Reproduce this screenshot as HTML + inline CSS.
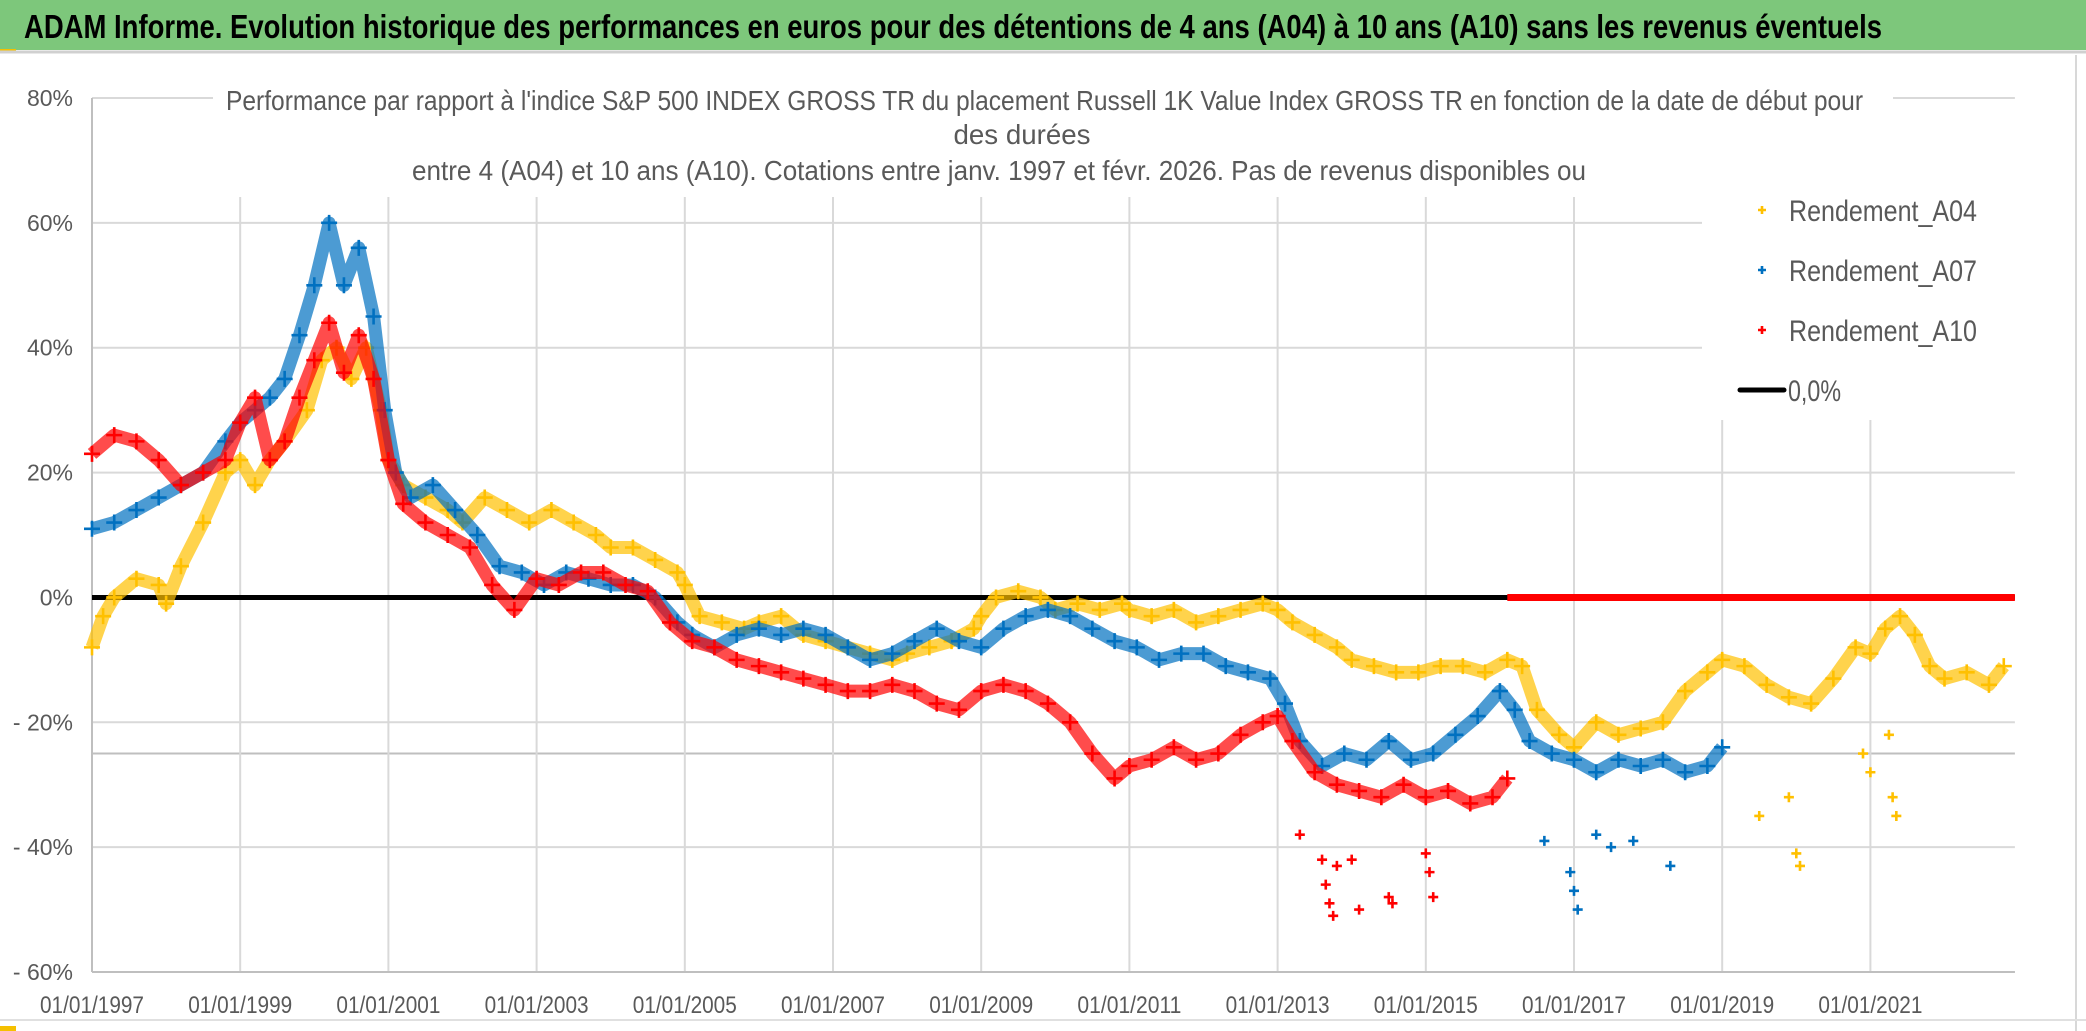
<!DOCTYPE html>
<html><head><meta charset="utf-8"><style>
html,body{margin:0;padding:0;background:#fff;}
svg{display:block;font-family:"Liberation Sans",sans-serif;}
</style></head><body>
<svg id="chart" width="2086" height="1031" viewBox="0 0 2086 1031" xmlns="http://www.w3.org/2000/svg">
<rect x="0" y="0" width="2086" height="1031" fill="#fff"/>
<rect x="0" y="0" width="2086" height="50" fill="#7dc77b"/>
<rect x="0" y="49" width="16" height="4" fill="#f5c000"/>
<line x1="0" y1="52" x2="2086" y2="52" stroke="#d0d0d0" stroke-width="3"/>
<text x="24" y="38" font-size="33" font-weight="bold" fill="#000" textLength="1858" lengthAdjust="spacingAndGlyphs">ADAM Informe. Evolution historique des performances en euros pour des détentions de 4 ans (A04) à 10 ans (A10) sans les revenus éventuels</text>
<line x1="2076" y1="55" x2="2076" y2="1031" stroke="#d8d8d8" stroke-width="2"/>
<line x1="0" y1="1020" x2="2086" y2="1020" stroke="#e0e0e0" stroke-width="2"/>
<rect x="0" y="1026" width="16" height="5" fill="#f5c000"/>
<g id="grid"></g>
<g id="series"></g>
<rect x="213" y="80" width="1680" height="117" fill="#fff"/>
<text x="226" y="110" font-size="28" fill="#595959" textLength="1637" lengthAdjust="spacingAndGlyphs">Performance par rapport à l'indice S&amp;P 500 INDEX GROSS TR  du placement Russell 1K Value Index GROSS TR en fonction de la date de début pour</text>
<text x="1022" y="144" font-size="28" fill="#595959" text-anchor="middle" textLength="137" lengthAdjust="spacingAndGlyphs">des durées</text>
<text x="412" y="180" font-size="28" fill="#595959" textLength="1174" lengthAdjust="spacingAndGlyphs">entre 4 (A04) et 10 ans (A10). Cotations entre janv. 1997 et févr. 2026. Pas de revenus disponibles ou</text>
<g id="legend">
<rect x="1702" y="182" width="313" height="238" fill="#fff"/>
</g>
<g id="axes"></g>
</svg>
<script>
// ---- data ----
const xTickYears = [1997,1999,2001,2003,2005,2007,2009,2011,2013,2015,2017,2019,2021];
const xTickLabels = ["01/01/1997","01/01/1999","01/01/2001","01/01/2003","01/01/2005","01/01/2007","01/01/2009","01/01/2011","01/01/2013","01/01/2015","01/01/2017","01/01/2019","01/01/2021"];
const yTickValues = [80,60,40,20,0,-20,-40,-60];
const yTickLabels = ["80%","60%","40%","20%","0%","- 20%","- 40%","- 60%"];
const a04Dates = [1997.0,1997.15,1997.3,1997.6,1997.9,1998.0,1998.2,1998.5,1998.8,1999.0,1999.2,1999.4,1999.6,1999.9,2000.1,2000.3,2000.5,2000.7,2000.9,2001.0,2001.2,2001.5,2001.8,2002.0,2002.3,2002.6,2002.9,2003.2,2003.5,2003.8,2004.0,2004.3,2004.6,2004.9,2005.0,2005.2,2005.5,2005.8,2006.0,2006.3,2006.6,2006.9,2007.2,2007.5,2007.8,2008.0,2008.3,2008.6,2008.9,2009.0,2009.2,2009.5,2009.8,2010.0,2010.3,2010.6,2010.9,2011.0,2011.3,2011.6,2011.9,2012.2,2012.5,2012.8,2013.0,2013.2,2013.5,2013.8,2014.0,2014.3,2014.6,2014.9,2015.2,2015.5,2015.8,2016.1,2016.3,2016.5,2016.8,2017.0,2017.3,2017.6,2017.9,2018.2,2018.5,2018.8,2019.0,2019.3,2019.6,2019.9,2020.2,2020.5,2020.8,2021.0,2021.2,2021.4,2021.6,2021.8,2022.0,2022.3,2022.6,2022.8];
const a04Values = [-8,-3,0,3,2,-1,5,12,20,22,18,22,25,30,38,40,35,40,30,22,18,16,14,12,16,14,12,14,12,10,8,8,6,4,2,-3,-4,-5,-4,-3,-6,-7,-8,-9,-10,-9,-8,-7,-5,-3,0,1,0,-2,-1,-2,-1,-2,-3,-2,-4,-3,-2,-1,-2,-4,-6,-8,-10,-11,-12,-12,-11,-11,-12,-10,-11,-18,-22,-24,-20,-22,-21,-20,-15,-12,-10,-11,-14,-16,-17,-13,-8,-9,-5,-3,-6,-11,-13,-12,-14,-11];
const a04OutDates = [2019.5,2019.9,2020.0,2020.05,2020.9,2021.0,2021.25,2021.3,2021.35];
const a04OutValues = [-35,-32,-41,-43,-25,-28,-22,-32,-35];
const a07Dates = [1997.0,1997.3,1997.6,1997.9,1998.2,1998.5,1998.8,1999.0,1999.2,1999.4,1999.6,1999.8,2000.0,2000.2,2000.4,2000.6,2000.8,2000.95,2001.1,2001.3,2001.6,2001.9,2002.2,2002.5,2002.8,2003.1,2003.4,2003.7,2004.0,2004.3,2004.6,2004.9,2005.1,2005.4,2005.7,2006.0,2006.3,2006.6,2006.9,2007.2,2007.5,2007.8,2008.1,2008.4,2008.7,2009.0,2009.3,2009.6,2009.9,2010.2,2010.5,2010.8,2011.1,2011.4,2011.7,2012.0,2012.3,2012.6,2012.9,2013.1,2013.3,2013.6,2013.9,2014.2,2014.5,2014.8,2015.1,2015.4,2015.7,2016.0,2016.2,2016.4,2016.7,2017.0,2017.3,2017.6,2017.9,2018.2,2018.5,2018.8,2019.0];
const a07Values = [11,12,14,16,18,20,25,28,30,32,35,42,50,60,50,56,45,30,20,16,18,14,10,5,4,2,4,3,2,2,0,-4,-6,-8,-6,-5,-6,-5,-6,-8,-10,-9,-7,-5,-7,-8,-5,-3,-2,-3,-5,-7,-8,-10,-9,-9,-11,-12,-13,-17,-23,-27,-25,-26,-23,-26,-25,-22,-19,-15,-18,-23,-25,-26,-28,-26,-27,-26,-28,-27,-24];
const a07OutDates = [2016.6,2016.95,2017.0,2017.05,2017.3,2017.5,2017.8,2018.3];
const a07OutValues = [-39,-44,-47,-50,-38,-40,-39,-43];
const a10Dates = [1997.0,1997.3,1997.6,1997.9,1998.2,1998.5,1998.8,1999.0,1999.2,1999.4,1999.6,1999.8,2000.0,2000.2,2000.4,2000.6,2000.8,2001.0,2001.2,2001.5,2001.8,2002.1,2002.4,2002.7,2003.0,2003.3,2003.6,2003.9,2004.2,2004.5,2004.8,2005.1,2005.4,2005.7,2006.0,2006.3,2006.6,2006.9,2007.2,2007.5,2007.8,2008.1,2008.4,2008.7,2009.0,2009.3,2009.6,2009.9,2010.2,2010.5,2010.8,2011.0,2011.3,2011.6,2011.9,2012.2,2012.5,2012.8,2013.0,2013.2,2013.5,2013.8,2014.1,2014.4,2014.7,2015.0,2015.3,2015.6,2015.9,2016.1];
const a10Values = [23,26,25,22,18,20,22,28,32,22,25,32,38,44,36,42,35,22,15,12,10,8,2,-2,3,2,4,4,2,1,-4,-7,-8,-10,-11,-12,-13,-14,-15,-15,-14,-15,-17,-18,-15,-14,-15,-17,-20,-25,-29,-27,-26,-24,-26,-25,-22,-20,-19,-23,-28,-30,-31,-32,-30,-32,-31,-33,-32,-29];
const a10OutDates = [2013.3,2013.6,2013.65,2013.7,2013.75,2013.8,2014.0,2014.1,2014.5,2014.55,2015.0,2015.05,2015.1];
const a10OutValues = [-38,-42,-46,-49,-51,-43,-42,-50,-48,-49,-41,-44,-48];
const zeroStart = 1997.0, zeroEnd = 2022.95, a10ZeroStart = 2016.1;

// ---- axes ----
const X0 = 92, PX_PER_YEAR = 74.1, YTOP = 98, PX_PER_PCT = 6.243;
const xs = yr => X0 + (yr - 1997) * PX_PER_YEAR;
const ys = v => YTOP + (80 - v) * PX_PER_PCT;
const NS = "http://www.w3.org/2000/svg";
function mk(tag, attrs, parent){const e=document.createElementNS(NS,tag);for(const k in attrs)e.setAttribute(k,attrs[k]);parent.appendChild(e);return e;}
const grid=document.getElementById('grid'), ser=document.getElementById('series'), axes=document.getElementById('axes'), legend=document.getElementById('legend');
const right = xs(zeroEnd), bottom = ys(-60);

yTickValues.forEach((v,i)=>{
  const l=mk('line',{x1:X0,x2:right,y1:ys(v),y2:ys(v),stroke:'#d9d9d9','stroke-width':2},grid);
  
  
  const t=mk('text',{x:73,y:ys(v)+8,'font-size':23,fill:'#595959','text-anchor':'end'},axes);
  t.textContent=yTickLabels[i];
  
  
});
const ref=mk('line',{x1:X0,x2:right,y1:ys(-25),y2:ys(-25),stroke:'#bfbfbf','stroke-width':2},grid);


xTickYears.forEach((yr,i)=>{
  const l=mk('line',{x1:xs(yr),x2:xs(yr),y1:YTOP,y2:bottom,stroke:'#d9d9d9','stroke-width':2},grid);
  
  
  const t=mk('text',{x:xs(yr),y:1013,'font-size':24,fill:'#595959','text-anchor':'middle',textLength:104,lengthAdjust:'spacingAndGlyphs'},axes);
  t.textContent=xTickLabels[i];
  
  
});
const ax=mk('line',{x1:X0,x2:X0,y1:YTOP,y2:bottom,stroke:'#bfbfbf','stroke-width':2},grid);


const bx=mk('line',{x1:X0,x2:right,y1:bottom,y2:bottom,stroke:'#bfbfbf','stroke-width':2},grid);



const z=mk('line',{x1:xs(zeroStart),x2:xs(zeroEnd),y1:ys(0),y2:ys(0),stroke:'#000','stroke-width':5},ser);



function plus(x,y,color,s,parent){
  return mk('path',{d:`M${x-s} ${y}H${x+s}M${x} ${y-s}V${y+s}`,stroke:color,'stroke-width':2.6,fill:'none'},parent);
}
function drawSeries(name,dates,vals,od,ov,color){
  const g=mk('g',{},ser);
  
  
  const pts=dates.map((d,i)=>xs(d).toFixed(1)+','+ys(vals[i]).toFixed(1)).join(' ');
  const band=mk('polyline',{points:pts,fill:'none',stroke:color,'stroke-width':13,'stroke-linejoin':'round','stroke-opacity':0.7},g);
  
  
  dates.forEach((d,i)=>{
    const m=plus(xs(d),ys(vals[i]),color,8,g);
    
    
  });
  od.forEach((d,i)=>{
    const m=plus(xs(d),ys(ov[i]),color,5,g);
    
    
  });
}
drawSeries('series-a04',a04Dates,a04Values,a04OutDates,a04OutValues,'#ffc000');
drawSeries('series-a07',a07Dates,a07Values,a07OutDates,a07OutValues,'#0070c0');
drawSeries('series-a10',a10Dates,a10Values,a10OutDates,a10OutValues,'#ff0000');
const rz=mk('line',{x1:xs(a10ZeroStart),x2:xs(zeroEnd),y1:ys(0),y2:ys(0),stroke:'#ff0000','stroke-width':7},ser);



const legendItems=[["Rendement_A04","#ffc000",210],["Rendement_A07","#0070c0",270],["Rendement_A10","#ff0000",330]];
legendItems.forEach(it=>{
  const m=plus(1762,it[2],it[1],4,legend);
  
  
  const t=mk('text',{x:1789,y:it[2]+11,'font-size':30,fill:'#595959',textLength:188,lengthAdjust:'spacingAndGlyphs'},legend);
  t.textContent=it[0];
  
  
});
const ll=mk('line',{x1:1740,x2:1784,y1:390,y2:390,stroke:'#000','stroke-width':5,'stroke-linecap':'round'},legend);


const lt=mk('text',{x:1788,y:401,'font-size':30,fill:'#595959',textLength:53,lengthAdjust:'spacingAndGlyphs'},legend);
lt.textContent='0,0%';


</script>
</body></html>
